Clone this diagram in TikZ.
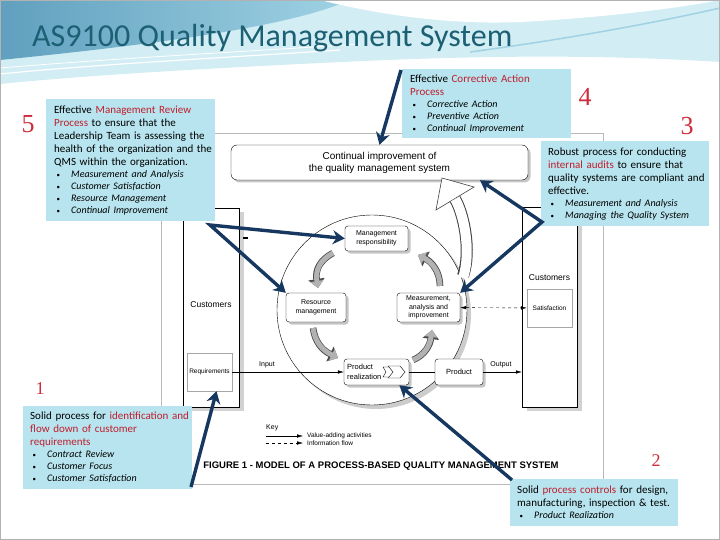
\documentclass[tikz,border=0pt]{standalone}
\usepackage{fontspec}
\setmainfont{Carlito}
\newfontfamily\figfont{Liberation Sans}
\newfontfamily\numfont{Liberation Serif}
\usetikzlibrary{arrows.meta,shadows}

\definecolor{calloutblue}{RGB}{183,228,238}
\definecolor{hilite}{RGB}{192,30,45}
\definecolor{pointerblue}{RGB}{22,55,95}
\definecolor{titleteal}{RGB}{28,96,116}
\definecolor{numred}{RGB}{205,45,60}
\definecolor{hdrdark}{RGB}{96,160,190}
\definecolor{hdrmid}{RGB}{160,210,228}
\definecolor{hdrpale}{RGB}{210,237,244}

\newcommand{\redtxt}[1]{\textcolor{hilite}{#1}}
\newcommand{\bulitem}[1]{\makebox[17pt][l]{\hspace{2.5pt}{\fontsize{7}{7}\selectfont\textbullet}}\textit{#1}}
\newcommand{\leadfont}{\fontsize{11}{13}\selectfont}
\newcommand{\listfont}{\fontsize{10}{12}\selectfont}

\begin{document}
\begin{tikzpicture}[
    x=1pt, y=-1pt,
    ptip/.tip={Stealth[length=12pt,width=14pt]},
    callout/.style={fill=calloutblue, anchor=north west, inner sep=0pt, align=left, font=\leadfont},
    figbox/.style={draw=black, fill=white, rounded corners=3pt, inner sep=1pt, align=center,
        font=\figfont\fontsize{7}{8.5}\selectfont,
        drop shadow={shadow xshift=2.5pt, shadow yshift=-2.5pt, fill=gray!45, opacity=1}},
    custbox/.style={draw=black, fill=white, inner sep=0pt,
        drop shadow={shadow xshift=5pt, shadow yshift=-4pt, fill=gray!35, opacity=1}},
    inbox/.style={draw=gray!70, fill=white, inner sep=0pt, font=\figfont\fontsize{6.5}{8}\selectfont},
    figtext/.style={font=\figfont\fontsize{7}{8.5}\selectfont, inner sep=0pt},
    valueflow/.style={draw=black, thin, -{Latex[length=6pt,width=3.5pt]}},
    infoflow/.style={draw=black, thin, dashed, {Latex[length=6pt,width=3.5pt]}-{Latex[length=6pt,width=3.5pt]}},
    loopflow/.style={draw=gray!60, line width=5pt, -{Triangle[length=7pt,width=13pt]},
        preaction={draw=black!70, line width=6.6pt, -{Triangle[length=9pt,width=16pt]}}},
    pointer/.style={draw=pointerblue, line width=3.4pt, line join=miter, -{ptip}},
    stepnum/.style={font=\numfont\fontsize{26}{26}\selectfont, text=numred, inner sep=0pt}
]
    \useasboundingbox (0,0) rectangle (720,540);

    % header
    \fill[hdrpale] (0,0) -- (720,0) -- (720,62) .. controls (560,52) and (420,58) .. (300,64)
        .. controls (180,70) and (80,76) .. (0,84) -- cycle;
    \shade[left color=hdrdark, right color=hdrmid] (0,0) -- (350,0) .. controls (300,22) and (200,40) .. (0,60) -- cycle;
    \fill[white] (320,0) .. controls (380,15) and (450,25) .. (520,22) .. controls (600,18) and (680,8) .. (720,0) -- cycle;
    \draw[white, line width=1.2pt] (0,74) .. controls (100,64) and (220,58) .. (340,50);
    \draw[white, line width=0.8pt] (0,68) .. controls (120,58) and (240,52) .. (360,44);
    \draw[hdrmid, line width=1.5pt] (470,52) .. controls (560,40) and (650,24) .. (720,8);
    \draw[gray!60] (0.5,0.5) rectangle (719.5,539.5);

    % figure
    \draw[gray!55] (161,133) rectangle (603,484);
    \node[custbox, minimum width=56pt, minimum height=199pt] (custL) at (211,307.5) {};
    \node[figtext, font=\figfont\fontsize{8.5}{10}\selectfont] (custLtxt) at (211,305) {Customers};
    \node[inbox, minimum width=45pt, minimum height=38pt] (req) at (209.5,372) {Requirements};
    \node[custbox, minimum width=55pt, minimum height=200pt] (custR) at (549.5,307) {};
    \node[figtext, font=\figfont\fontsize{8.5}{10}\selectfont] (custRtxt) at (549.5,278) {Customers};
    \node[inbox, minimum width=45pt, minimum height=38pt] (satis) at (549.5,308) {Satisfaction};

    \node[circle, draw=black, fill=white, minimum size=190pt, inner sep=0pt,
        drop shadow={shadow xshift=4pt, shadow yshift=-4pt, fill=gray!40, opacity=1}] (qloop) at (372,310) {};

    \node[figbox, rounded corners=6pt, minimum width=297pt, minimum height=35pt,
        font=\figfont\fontsize{10}{12}\selectfont] (cibox) at (379.5,162.5) {Continual improvement of\\the quality management system};
    \node[figbox, minimum width=63pt, minimum height=25pt] (mresp) at (376.5,238.5) {Management\\responsibility};
    \node[figbox, minimum width=60pt, minimum height=29pt] (resmgt) at (316,307.5) {Resource\\management};
    \node[figbox, minimum width=63pt, minimum height=29pt] (meas) at (428.5,307.5) {Measurement,\\analysis and\\improvement};
    \node[figbox, minimum width=65pt, minimum height=26pt] (preal) at (376.5,372) {};
    \node[figtext, anchor=west, align=left, font=\figfont\fontsize{7.5}{9.5}\selectfont] (prealtxt) at (347,372) {Product\\realization};
    \node[figbox, minimum width=48pt, minimum height=26pt, font=\figfont\fontsize{7.5}{9}\selectfont] (product) at (459,372) {Product};
    \draw[thin, fill=white] (388,366) -- (400,366) -- (405,372) -- (400,378) -- (388,378) -- (392,372) -- cycle;
    \draw[thin, fill=white] (383,367) -- (389,367) -- (393,372) -- (389,377) -- (383,377) -- (386,372) -- cycle;

    \draw[valueflow] (req) -- (preal);
    \draw[thin] (preal) -- (product);
    \draw[valueflow] (product.east) -- (product.east -| custR.west);
    \draw[infoflow] (meas) -- (satis);
    \node[figtext] (inlbl) at (267,365) {Input};
    \node[figtext] (outlbl) at (501,365) {Output};
    \coordinate (mrtick) at (243,238);
    \draw[line width=1.3pt] (mrtick) -- ++(5,0);

    \draw[loopflow] (333,253) .. controls (320,260) and (315,270) .. (318,288);
    \draw[loopflow] (313,328) .. controls (315,342) and (322,350) .. (338,358);
    \draw[loopflow] (413,360) .. controls (425,355) and (430,345) .. (432,330);
    \draw[loopflow] (440,286) .. controls (440,272) and (432,262) .. (418,255);

    \filldraw[fill=white, draw=black!75, line width=0.6pt] (436,210) -- (442,178) -- (474,187) -- cycle;
    \draw[line width=12pt, black!75] (463,276) .. controls (472,250) and (463,212) .. (455,199);
    \draw[line width=10pt, white] (463,278) .. controls (472,250) and (463,212) .. (455,199);

    \node[figtext, anchor=west] (keylbl) at (266,428) {Key};
    \coordinate (vaS) at (266,436);
    \coordinate (vaE) at (303,436);
    \draw[valueflow] (vaS) -- (vaE);
    \node[figtext, anchor=west, font=\figfont\fontsize{6.5}{8}\selectfont] (vatxt) at (307,436) {Value-adding activities};
    \coordinate (ifS) at (266,443);
    \coordinate (ifE) at (303,443);
    \draw[valueflow, dashed] (ifS) -- (ifE);
    \node[figtext, anchor=west, font=\figfont\fontsize{6.5}{8}\selectfont] (iftxt) at (307,443) {Information flow};
    \node[figtext, font=\figfont\bfseries\fontsize{9.5}{11}\selectfont] (caption) at (381,466)
        {FIGURE 1 - MODEL OF A PROCESS-BASED QUALITY MANAGEMENT SYSTEM};

    % callouts
    \node[callout, text width=169pt, minimum height=69pt] (caction) at (402,69) {\leftskip=8pt
        {\leadfont Effective \redtxt{Corrective Action}\\\redtxt{Process}\par}
        {\listfont\bulitem{Corrective Action}\\\bulitem{Preventive Action}\\\bulitem{Continual Improvement}\par}};
    \node[callout, text width=169pt, minimum height=122pt] (mrev) at (46,99) {\leftskip=8pt
        {\leadfont Effective \redtxt{Management Review}\\\redtxt{Process} to ensure that the\\Leadership Team is assessing the\\health of the organization and the\\QMS within the organization.\par}
        {\listfont\bulitem{Measurement and Analysis}\\\bulitem{Customer Satisfaction}\\\bulitem{Resource Management}\\\bulitem{Continual Improvement}\par}};
    \node[callout, text width=168pt, minimum height=85pt] (audit) at (541,141) {\leftskip=7pt
        {\leadfont Robust process for conducting\\\redtxt{internal audits} to ensure that\\quality systems are compliant and\\effective.\par}
        {\listfont\bulitem{Measurement and Analysis}\\\bulitem{Managing the Quality System}\par}};
    \node[callout, text width=169pt, minimum height=83pt] (custreq) at (23,406) {\leftskip=7pt
        {\leadfont Solid process for \redtxt{identification and}\\\redtxt{flow down of customer}\\\redtxt{requirements}\par}
        {\listfont\bulitem{Contract Review}\\\bulitem{Customer Focus}\\\bulitem{Customer Satisfaction}\par}};
    \node[callout, text width=168pt, minimum height=47pt] (ctrl) at (510,479) {\leftskip=7pt
        {\leadfont Solid \redtxt{process controls} for design,\\manufacturing, inspection \& test.\par}
        {\listfont\bulitem{Product Realization}\par}};

    % pointers
    \coordinate (cactpt) at (401,70);
    \draw[pointer] (cactpt) -- (cibox.north);
    \coordinate (mrevpt) at (210,225);
    \draw[pointer, {ptip}-{ptip}] (mresp.west) -- (mrevpt) -- (resmgt.north west);
    \coordinate (auditpt) at (542,222);
    \draw[pointer, {ptip}-{ptip}] (cibox.-10) -- (auditpt) -- (meas.north east);
    \coordinate (reqpt) at (191,487);
    \draw[pointer] (reqpt) -- (req.-70);
    \coordinate (ctrlpt) at (512,480);
    \draw[pointer] (ctrlpt) -- (preal.-30);

    % numbers and title
    \node[stepnum] (n5) at (28,124) {5};
    \node[stepnum] (n4) at (585,97) {4};
    \node[stepnum] (n3) at (687,126) {3};
    \node[stepnum, font=\numfont\fontsize{18}{18}\selectfont] (n1) at (40,389) {1};
    \node[stepnum, font=\numfont\fontsize{18}{18}\selectfont] (n2) at (656,461) {2};
    \node[anchor=base west, inner sep=0pt, text=titleteal, font=\fontsize{32}{38}\selectfont] (title) at (32,47)
        {AS9100 Quality Management System};
\end{tikzpicture}
\end{document}
